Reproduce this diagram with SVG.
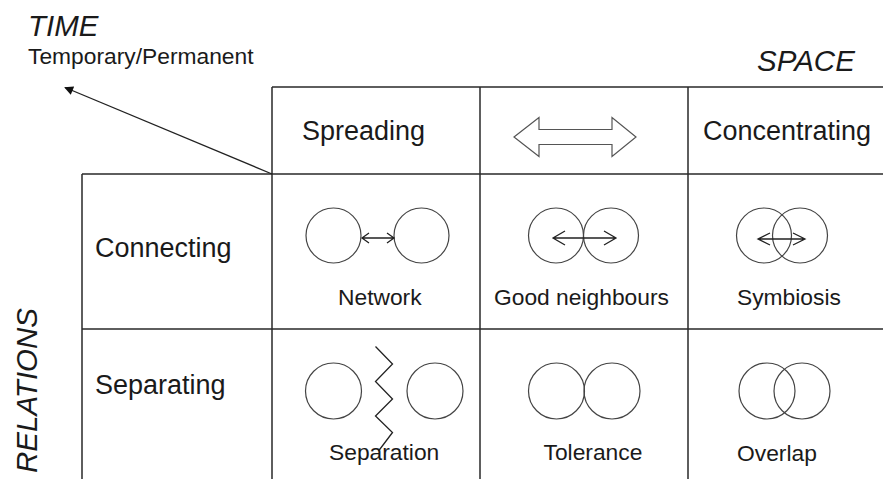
<svg xmlns="http://www.w3.org/2000/svg" width="883" height="479" viewBox="0 0 883 479">
<style>
text{font-family:"Liberation Sans",Arial,sans-serif;fill:#1a1a1a}
.ax{font-size:29.5px;font-style:italic}
.hd{font-size:27px}
.lb{font-size:23px}
.sm{font-size:22.8px}
.grid{stroke:#2a2a2a;stroke-width:1.5;fill:none}
.c{fill:none;stroke:#444;stroke-width:1.2}
.ar{fill:none;stroke:#222;stroke-width:1.3}
</style>
<defs>
<marker id="tip" viewBox="0 0 10 10" refX="9" refY="5" markerWidth="11" markerHeight="9" markerUnits="userSpaceOnUse" orient="auto">
<path d="M0,0 L10,5 L0,10 z" fill="#111"/>
</marker>
</defs>
<rect width="883" height="479" fill="#fff"/>

<g id="axes">
<text class="ax" x="28" y="36">TIME</text>
<text class="sm" x="28" y="64">Temporary/Permanent</text>
<text class="ax" x="757" y="71">SPACE</text>
<text class="ax" transform="translate(37,473) rotate(-90)">RELATIONS</text>
</g>

<g id="grid" class="grid">
<path d="M272,87 H883 M82,174 H883 M82,329 H883 M82,174 V479 M272,87 V479 M480,87 V479 M688,87 V479"/>
</g>

<g id="connectors">
<line x1="272" y1="174" x2="65" y2="87.5" stroke="#222" stroke-width="1.3" marker-end="url(#tip)"/>
</g>

<g id="spreading"><text class="hd" x="302" y="140">Spreading</text></g>
<g id="space-arrow">
<polygon points="514,137 539,117.5 539,129.5 612,129.5 612,117.5 636,137 612,156.5 612,144.5 539,144.5 539,156.5" fill="#fff" stroke="#555" stroke-width="1.2"/>
</g>
<g id="concentrating"><text class="hd" x="703" y="140">Concentrating</text></g>

<g id="connecting"><text class="hd" x="95" y="257">Connecting</text></g>
<g id="separating"><text class="hd" x="95" y="394">Separating</text></g>

<g id="network">
<circle class="c" cx="333.5" cy="235.5" r="27.5"/>
<circle class="c" cx="421.5" cy="235.5" r="27.5"/>
<path class="ar" d="M362,238 H394 M369,233 L362,238 L369,243 M387,233 L394,238 L387,243"/>
<text class="sm" x="338" y="305">Network</text>
</g>

<g id="good-neighbours">
<circle class="c" cx="556" cy="235.5" r="27.5"/>
<circle class="c" cx="611" cy="235.5" r="27.5"/>
<path class="ar" d="M553,238 H616 M565,231 L553,238 L565,245 M604,231 L616,238 L604,245"/>
<text class="sm" x="494" y="305">Good neighbours</text>
</g>

<g id="symbiosis">
<circle class="c" cx="764" cy="235.5" r="27.5"/>
<circle class="c" cx="800" cy="235.5" r="27.5"/>
<path class="ar" d="M758,239 H805 M770,233 L758,239 L770,245 M793,233 L805,239 L793,245"/>
<text class="sm" x="737" y="305">Symbiosis</text>
</g>

<g id="separation">
<circle class="c" cx="333.5" cy="391" r="28"/>
<circle class="c" cx="435" cy="391" r="28"/>
<polyline class="ar" points="375.5,346.5 392.5,364 375.5,381.5 392.5,399 375.5,416 392.5,432.5 378.5,451"/>
<text class="sm" x="329" y="460">Separation</text>
</g>

<g id="tolerance">
<circle class="c" cx="556.5" cy="391" r="28"/>
<circle class="c" cx="612" cy="391" r="28"/>
<text class="sm" x="543.5" y="460">Tolerance</text>
</g>

<g id="overlap">
<circle class="c" cx="767" cy="391" r="28"/>
<circle class="c" cx="802" cy="391" r="28"/>
<text class="sm" x="737" y="460.5">Overlap</text>
</g>
</svg>
